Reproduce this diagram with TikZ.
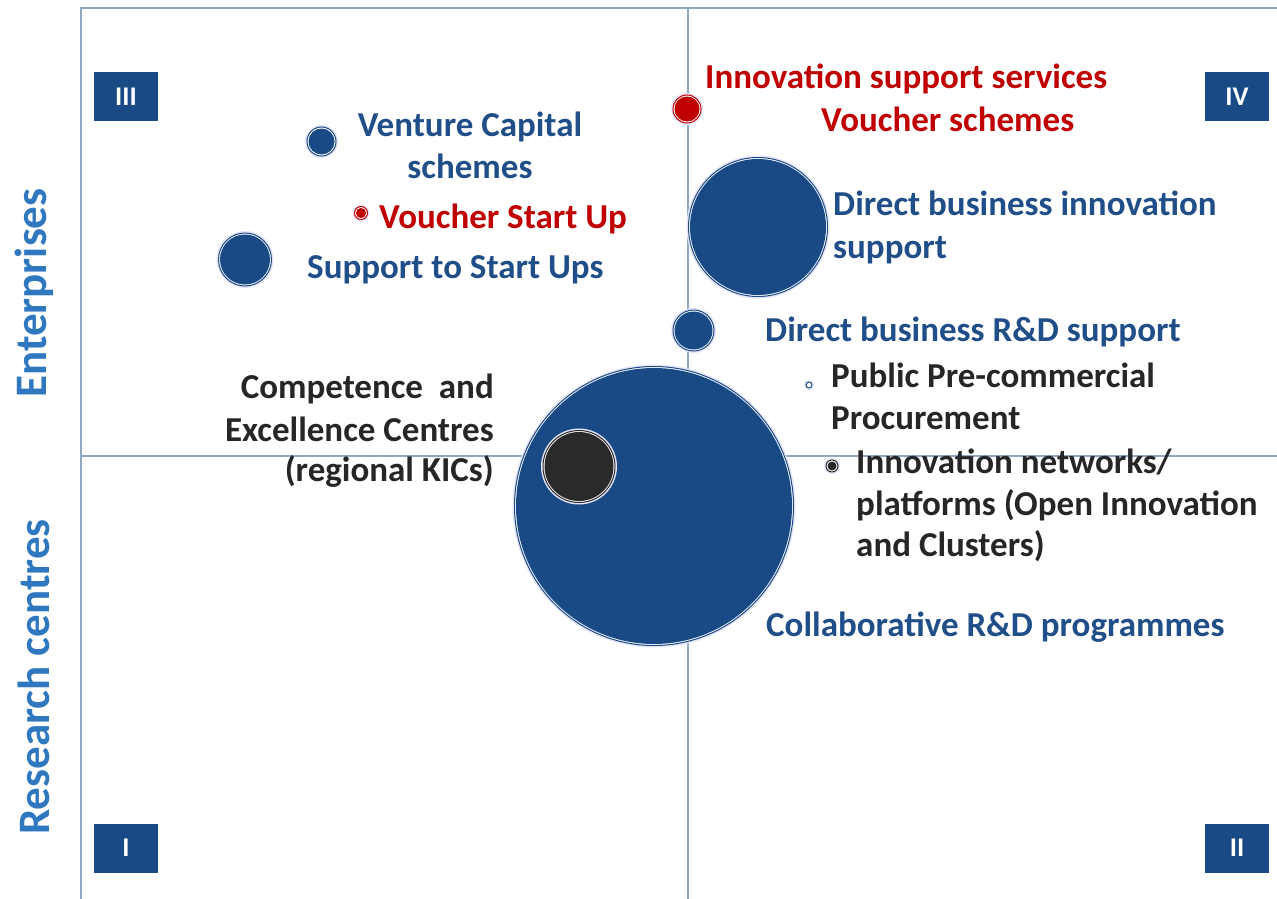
\documentclass[tikz,border=0pt]{standalone}
\usepackage{fontspec}
\setmainfont{Carlito}
\definecolor{axisc}{HTML}{8FA8C8}
\definecolor{bblue}{HTML}{1A4A85}
\definecolor{tblue}{HTML}{1F4E89}
\definecolor{lblue}{HTML}{2F78C0}
\definecolor{tred}{HTML}{C00000}
\definecolor{tblack}{HTML}{262626}
\definecolor{halo}{HTML}{E4E4FA}
\definecolor{dark}{HTML}{2A2A2A}
\newcommand\bub[5]{%
  \fill[halo] (#1,#2) circle[radius={#3*1pt}];
  \draw[#4, line width=1pt, fill=white] (#1,#2) circle[radius={(#3-2)*1pt}];
  \fill[#5] (#1,#2) circle[radius={(#3-3.5)*1pt}];
}
\tikzset{
  lbl/.style={font=\fontsize{35}{42}\selectfont\bfseries, inner sep=0pt, anchor=mid west},
  quad/.style={fill=bblue, text=white, minimum width=64pt, minimum height=49pt, inner sep=0pt, font=\fontsize{27}{28}\selectfont\bfseries},
  axis/.style={axisc, line width=2.5pt},
  side/.style={font=\fontsize{45}{48}\selectfont\bfseries, text=lblue, rotate=90, inner sep=0pt}
}
\begin{document}
\begin{tikzpicture}[x=1pt,y=-1pt]
\useasboundingbox (0,0) rectangle (1277,899);
% axes
\coordinate (tl) at (81,8);
\coordinate (tr) at (1277,8);
\coordinate (bl) at (81,899);
\coordinate (ml) at (81,456);
\coordinate (mr) at (1277,456);
\coordinate (mt) at (688,8);
\coordinate (mb) at (688,899);
\draw[axis] (bl) -- (tl) -- (tr);
\draw[axis] (ml) -- (mr);
\draw[axis] (mt) -- (mb);
% quadrant boxes
\node[quad] (q3) at (126,96.5) {III};
\node[quad] (q4) at (1237,96.5) {IV};
\node[quad] (q1) at (126,848) {I};
\node[quad] (q2) at (1237,848) {II};
% side labels
\node[side] (ent) at (34,293) {Enterprises};
\node[side] (res) at (34,677) {Research centres};
% bubbles
\bub{654}{506}{141.5}{bblue}{bblue}
\bub{579}{466.5}{38}{dark}{dark}
\bub{758}{227}{71.5}{bblue}{bblue}
\bub{693.5}{330.5}{22.5}{bblue}{bblue}
\bub{321.5}{141.5}{16.5}{bblue}{bblue}
\bub{361}{213}{8.5}{tred}{tred}
\bub{687}{109}{16}{tred}{tred}
\bub{245}{259.5}{28.5}{bblue}{bblue}
\bub{809}{385}{5}{bblue}{white}
\bub{832}{466}{8}{dark}{dark}
% labels
\node[lbl, text=tblue, align=center, anchor=center] (vc) at (470,145) {Venture Capital\\schemes};
\node[lbl, text=tred] (vsu) at (379,226) {Voucher Start Up};
\node[lbl, text=tblue] (ssu) at (307,276) {Support to Start Ups};
\node[lbl, text=tred] (iss) at (705,86) {Innovation support services};
\node[lbl, text=tred] (vs) at (821,129) {Voucher schemes};
\node[lbl, text=tblue] (dbi1) at (833,213) {Direct business innovation};
\node[lbl, text=tblue] (dbi2) at (833,256) {support};
\node[lbl, text=tblue] (dbr) at (765,339) {Direct business R\&D support};
\node[lbl, text=tblack] (ppc1) at (831,385) {Public Pre-commercial};
\node[lbl, text=tblack] (ppc2) at (831,427) {Procurement};
\node[lbl, text=tblack] (in1) at (856,471) {Innovation networks/};
\node[lbl, text=tblack] (in2) at (856,513) {platforms (Open Innovation};
\node[lbl, text=tblack] (in3) at (856,554) {and Clusters)};
\node[lbl, text=tblue] (crd) at (766,634) {Collaborative R\&D programmes};
\node[lbl, text=tblack, anchor=mid east] (cec1) at (494,396) {Competence\ \ and};
\node[lbl, text=tblack, anchor=mid east] (cec2) at (494,439) {Excellence Centres};
\node[lbl, text=tblack, anchor=mid east] (cec3) at (494,479) {(regional KICs)};
\end{tikzpicture}
\end{document}
